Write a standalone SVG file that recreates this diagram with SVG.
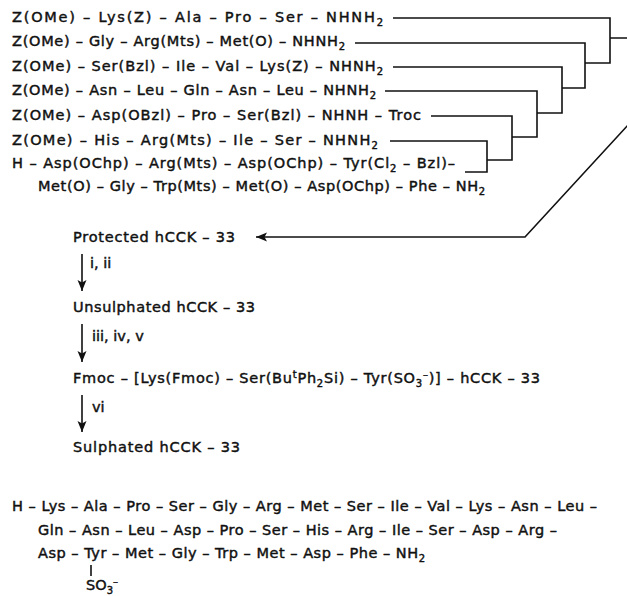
<svg xmlns="http://www.w3.org/2000/svg" width="627" height="596" viewBox="0 0 627 596">
<style>
text{font-family:"DejaVu Sans","Liberation Sans",sans-serif;font-size:14.5px;fill:#111;stroke:#111;stroke-width:0.45}
.sb{font-size:10px}
.ln{fill:none;stroke:#111;stroke-width:1.6}
</style>
<defs>
<marker id="ah" markerWidth="12" markerHeight="10" refX="11" refY="5" orient="auto" markerUnits="userSpaceOnUse">
<path d="M0,0.5 L11,5 L0,9.5 L2.5,5 Z" fill="#111"/>
</marker>
</defs>
<rect width="627" height="596" fill="#fff"/>
<g id="fragments">
<text x="12" y="22" textLength="371">Z(OMe) – Lys(Z) – Ala – Pro – Ser – NHNH<tspan dy="4" class="sb">2</tspan></text>
<text x="12" y="46" textLength="333">Z(OMe) – Gly – Arg(Mts) – Met(O) – NHNH<tspan dy="4" class="sb">2</tspan></text>
<text x="12" y="71" textLength="371">Z(OMe) – Ser(Bzl) – Ile – Val – Lys(Z) – NHNH<tspan dy="4" class="sb">2</tspan></text>
<text x="12" y="95" textLength="364">Z(OMe) – Asn – Leu – Gln – Asn – Leu – NHNH<tspan dy="4" class="sb">2</tspan></text>
<text x="12" y="120" textLength="409">Z(OMe) – Asp(OBzl) – Pro – Ser(Bzl) – NHNH – Troc</text>
<text x="12" y="145" textLength="366">Z(OMe) – His – Arg(Mts) – Ile – Ser – NHNH<tspan dy="4" class="sb">2</tspan></text>
<text x="12" y="168" textLength="443">H – Asp(OChp) – Arg(Mts) – Asp(OChp) – Tyr(Cl<tspan dy="4" class="sb">2</tspan><tspan dy="-4"> – Bzl)–</tspan></text>
<text x="38" y="191" textLength="447">Met(O) – Gly – Trp(Mts) – Met(O) – Asp(OChp) – Phe – NH<tspan dy="4" class="sb">2</tspan></text>
</g>
<g id="connectors">
<path class="ln" d="M393,18 H610 V63 H585 M610,38 H630"/>
<path class="ln" d="M355,43 H585 V88 H562"/>
<path class="ln" d="M393,67 H562 V113 H537"/>
<path class="ln" d="M385,91 H537 V137 H512"/>
<path class="ln" d="M431,116 H512 V160 H487"/>
<path class="ln" d="M390,141 H487 V172 H465"/>
<path class="ln" d="M640,112 L525,237 H256" marker-end="url(#ah)"/>
<path class="ln" d="M82,254 V291" marker-end="url(#ah)"/>
<path class="ln" d="M82,324 V362" marker-end="url(#ah)"/>
<path class="ln" d="M82,395 V432" marker-end="url(#ah)"/>
<path class="ln" d="M91,565 V576"/>
</g>
<g id="protected"><text x="73" y="242" textLength="162">Protected hCCK – 33</text></g>
<text x="90" y="268">i, ii</text>
<g id="unsulphated"><text x="73" y="312" textLength="182">Unsulphated hCCK – 33</text></g>
<text x="92" y="341">iii, iv, v</text>
<g id="fmoc"><text x="73" y="383" textLength="467">Fmoc – [Lys(Fmoc) – Ser(Bu<tspan dy="-5" class="sb">t</tspan><tspan dy="5">Ph</tspan><tspan dy="4" class="sb">2</tspan><tspan dy="-4">Si) – Tyr(SO</tspan><tspan dy="4" class="sb">3</tspan><tspan dy="-9" class="sb">–</tspan><tspan dy="5">)] – hCCK – 33</tspan></text></g>
<text x="92" y="412">vi</text>
<g id="sulphated"><text x="73" y="452" textLength="167">Sulphated hCCK – 33</text></g>
<g id="sequence">
<text x="12" y="511" textLength="585">H – Lys – Ala – Pro – Ser – Gly – Arg – Met – Ser – Ile – Val – Lys – Asn – Leu –</text>
<text x="38" y="535" textLength="519">Gln – Asn – Leu – Asp – Pro – Ser – His – Arg – Ile – Ser – Asp – Arg –</text>
<text x="38" y="558" textLength="387">Asp – Tyr – Met – Gly – Trp – Met – Asp – Phe – NH<tspan dy="4" class="sb">2</tspan></text>
<text x="86" y="590">SO<tspan dy="4" class="sb">3</tspan><tspan dy="-9" class="sb">–</tspan></text>
</g>
</svg>
